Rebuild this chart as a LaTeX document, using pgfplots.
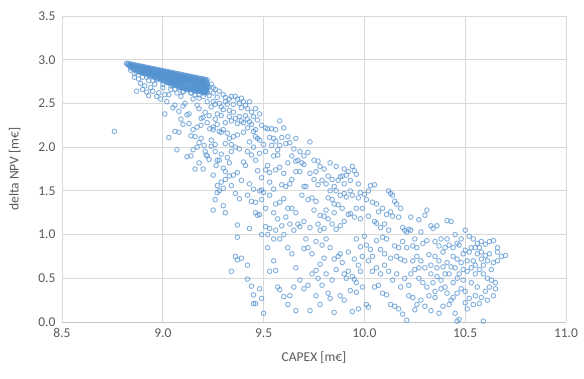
\documentclass[border=0pt]{standalone}
\usepackage{fontspec}
\setmainfont{Carlito}
\usepackage{pgfplots}
\pgfplotsset{compat=1.18}
\definecolor{ptblue}{RGB}{84,146,208}
\definecolor{gridgray}{RGB}{217,217,217}
\definecolor{labgray}{RGB}{89,89,89}
\pgfplotsset{design/.style={only marks, mark=o, mark size=2.3bp, line width=0.9bp, draw=ptblue, draw opacity=0.72}}
\begin{document}
\begin{tikzpicture}
\path[use as bounding box] (-62bp,-57bp) rectangle (522bp,322bp);
\begin{axis}[
  at={(0,0)}, anchor=south west,
  scale only axis, width=504bp, height=306bp,
  xmin=8.5, xmax=11.0, ymin=0, ymax=3.5,
  xtick={8.5,9.0,...,11.0}, ytick={0,0.5,...,3.5},
  /pgf/number format/fixed, /pgf/number format/fixed zerofill, /pgf/number format/precision=1,
  /pgf/number format/assume math mode=true,
  tick label style={font=\fontsize{13.5bp}{15bp}\selectfont, text=labgray},
  label style={font=\fontsize{13.5bp}{15bp}\selectfont, text=labgray},
  major tick length=0pt,
  grid=major, major grid style={gridgray, line width=0.8bp},
  axis line style={gridgray, line width=0.8bp},
  axis x line*=bottom, axis y line*=left,
  x axis line style={-, draw=gridgray!80!black!70, line width=0.8bp},
  y axis line style={-, draw=none},
  xlabel={CAPEX [m€]}, ylabel={delta NPV [m€]},
  xlabel style={at={(axis description cs:0.5,0)}, anchor=north, yshift=-26bp},
  ylabel style={at={(axis description cs:0,0.5)}, anchor=south, yshift=38bp},
  xticklabel style={yshift=-3bp},
  yticklabel style={xshift=-3bp},
  clip=false,
]
% dense front along the upper edge
\addplot[design] coordinates {
(8.82,2.960) (8.83,2.955) (8.84,2.951) (8.85,2.946) (8.86,2.941) (8.87,2.936) (8.88,2.932) (8.89,2.927) (8.90,2.922) (8.91,2.917) (8.92,2.913) (8.93,2.908) (8.94,2.903) (8.95,2.898) (8.96,2.894) (8.97,2.889) (8.98,2.884) (8.99,2.879) (9.00,2.875) (9.01,2.870) (9.02,2.865) (9.03,2.860) (9.04,2.856) (9.05,2.851) (9.06,2.846) (9.07,2.841) (9.08,2.837) (9.09,2.832) (9.10,2.827) (9.11,2.822) (9.12,2.818) (9.13,2.813) (9.14,2.808) (9.15,2.803) (9.16,2.799) (9.17,2.794) (9.18,2.789) (9.19,2.784) (9.20,2.780) (9.21,2.775) (9.22,2.770)
(8.835,2.928) (8.845,2.923) (8.855,2.918) (8.865,2.914) (8.875,2.909) (8.885,2.904) (8.895,2.899) (8.905,2.895) (8.915,2.890) (8.925,2.885) (8.935,2.880) (8.945,2.876) (8.955,2.871) (8.965,2.866) (8.975,2.861) (8.985,2.857) (8.995,2.852) (9.005,2.847) (9.015,2.842) (9.025,2.838) (9.035,2.833) (9.045,2.828) (9.055,2.823) (9.065,2.819) (9.075,2.814) (9.085,2.809) (9.095,2.804) (9.105,2.800) (9.115,2.795) (9.125,2.790) (9.135,2.785) (9.145,2.781) (9.155,2.776) (9.165,2.771) (9.175,2.766) (9.185,2.762) (9.195,2.757) (9.205,2.752) (9.215,2.747)
(8.85,2.896) (8.86,2.891) (8.87,2.886) (8.88,2.882) (8.89,2.877) (8.90,2.872) (8.91,2.867) (8.92,2.863) (8.93,2.858) (8.94,2.853) (8.95,2.848) (8.96,2.844) (8.97,2.839) (8.98,2.834) (8.99,2.829) (9.00,2.825) (9.01,2.820) (9.02,2.815) (9.03,2.810) (9.04,2.806) (9.05,2.801) (9.06,2.796) (9.07,2.791) (9.08,2.787) (9.09,2.782) (9.10,2.777) (9.11,2.772) (9.12,2.768) (9.13,2.763) (9.14,2.758) (9.15,2.753) (9.16,2.749) (9.17,2.744) (9.18,2.739) (9.19,2.734) (9.20,2.730) (9.21,2.725) (9.22,2.720)
(8.895,2.849) (8.905,2.845) (8.915,2.840) (8.925,2.835) (8.935,2.830) (8.945,2.826) (8.955,2.821) (8.965,2.816) (8.975,2.811) (8.985,2.807) (8.995,2.802) (9.005,2.797) (9.015,2.792) (9.025,2.788) (9.035,2.783) (9.045,2.778) (9.055,2.773) (9.065,2.769) (9.075,2.764) (9.085,2.759) (9.095,2.754) (9.105,2.750) (9.115,2.745) (9.125,2.740) (9.135,2.735) (9.145,2.731) (9.155,2.726) (9.165,2.721) (9.175,2.716) (9.185,2.712) (9.195,2.707) (9.205,2.702) (9.215,2.697)
(8.96,2.794) (8.97,2.789) (8.98,2.784) (8.99,2.779) (9.00,2.775) (9.01,2.770) (9.02,2.765) (9.03,2.760) (9.04,2.756) (9.05,2.751) (9.06,2.746) (9.07,2.741) (9.08,2.737) (9.09,2.732) (9.10,2.727) (9.16,2.699) (9.17,2.694) (9.18,2.689) (9.19,2.684) (9.20,2.680) (9.21,2.675) (9.22,2.670)
(9.025,2.738) (9.035,2.733) (9.045,2.728) (9.055,2.723) (9.065,2.719) (9.075,2.714) (9.085,2.709) (9.095,2.704) (9.105,2.700) (9.115,2.695) (9.125,2.690) (9.135,2.685) (9.145,2.681) (9.155,2.676) (9.165,2.671) (9.175,2.666) (9.185,2.662) (9.195,2.657) (9.205,2.652) (9.215,2.647)
(9.08,2.687) (9.09,2.682) (9.10,2.677) (9.11,2.672) (9.12,2.668) (9.13,2.663) (9.14,2.658) (9.15,2.653) (9.16,2.649) (9.17,2.644) (9.18,2.639) (9.19,2.634) (9.20,2.630) (9.21,2.625) (9.22,2.620)
(9.04,2.70) (9.08,2.68) (9.12,2.66) (9.16,2.64) (9.20,2.62) (9.10,2.64) (9.14,2.62) (9.18,2.60) (9.06,2.66) (9.22,2.70) (9.24,2.72) (9.25,2.68)
(8.84,2.88) (8.86,2.84) (8.88,2.78) (8.92,2.80) (8.95,2.76) (8.97,2.77) (8.89,2.85) (9.00,2.72) (9.02,2.74) (8.87,2.64) (8.93,2.59) (8.90,2.66)
};
% more of the front, between the rows above
\addplot[design] coordinates {
(8.825,2.945) (8.835,2.941) (8.845,2.936) (8.855,2.931) (8.865,2.926) (8.875,2.921) (8.885,2.917) (8.895,2.912) (8.905,2.907) (8.915,2.902) (8.925,2.898) (8.935,2.893) (8.945,2.888) (8.955,2.883) (8.965,2.879) (8.975,2.874) (8.985,2.869) (8.995,2.864) (9.005,2.860) (9.015,2.855) (9.025,2.850) (9.035,2.845) (9.045,2.841) (9.055,2.836) (9.065,2.831) (9.075,2.826) (9.085,2.822) (9.095,2.817) (9.105,2.812) (9.115,2.807) (9.125,2.803) (9.135,2.798) (9.145,2.793) (9.155,2.788) (9.165,2.784) (9.175,2.779) (9.185,2.774) (9.195,2.769) (9.205,2.765) (9.215,2.760)
(8.84,2.913) (8.85,2.909) (8.86,2.904) (8.87,2.899) (8.88,2.894) (8.89,2.890) (8.90,2.885) (8.91,2.880) (8.92,2.875) (8.93,2.871) (8.94,2.866) (8.95,2.861) (8.96,2.856) (8.97,2.852) (8.98,2.847) (8.99,2.842) (9.00,2.837) (9.01,2.833) (9.02,2.828) (9.03,2.823) (9.04,2.818) (9.05,2.814) (9.06,2.809) (9.07,2.804) (9.08,2.799) (9.09,2.795) (9.10,2.790) (9.11,2.785) (9.12,2.780) (9.13,2.776) (9.14,2.771) (9.15,2.766) (9.16,2.761) (9.17,2.757) (9.18,2.752) (9.19,2.747) (9.20,2.742) (9.21,2.738) (9.22,2.733)
(8.875,2.871) (8.885,2.867) (8.895,2.862) (8.905,2.857) (8.915,2.852) (8.925,2.848) (8.935,2.843) (8.945,2.838) (8.955,2.833) (8.965,2.829) (8.975,2.824) (8.985,2.819) (8.995,2.814) (9.005,2.810) (9.015,2.805) (9.025,2.800) (9.035,2.795) (9.045,2.791) (9.055,2.786) (9.065,2.781) (9.075,2.776) (9.085,2.772) (9.095,2.767) (9.105,2.762) (9.115,2.757) (9.125,2.753) (9.135,2.748) (9.145,2.743) (9.155,2.738) (9.165,2.734) (9.175,2.729) (9.185,2.724) (9.195,2.719) (9.205,2.715) (9.215,2.710)
(8.93,2.821) (8.94,2.816) (8.95,2.811) (8.96,2.806) (8.97,2.802) (8.98,2.797) (8.99,2.792) (9.00,2.787) (9.01,2.783) (9.02,2.778) (9.03,2.773) (9.04,2.768) (9.05,2.764) (9.06,2.759) (9.07,2.754) (9.08,2.749) (9.09,2.745) (9.10,2.740) (9.17,2.707) (9.18,2.702) (9.19,2.697) (9.20,2.692) (9.21,2.688) (9.22,2.683)
(8.995,2.764) (9.005,2.760) (9.015,2.755) (9.025,2.750) (9.035,2.745) (9.045,2.741) (9.055,2.736) (9.065,2.731) (9.075,2.726) (9.085,2.722) (9.095,2.717) (9.155,2.688) (9.165,2.684) (9.175,2.679) (9.185,2.674) (9.195,2.669) (9.205,2.665) (9.215,2.660)
(9.05,2.713) (9.06,2.709) (9.07,2.704) (9.08,2.699) (9.09,2.694) (9.10,2.690) (9.11,2.685) (9.12,2.680) (9.13,2.676) (9.14,2.671) (9.15,2.666) (9.16,2.661) (9.17,2.657) (9.18,2.652) (9.19,2.647) (9.20,2.642) (9.21,2.638) (9.22,2.633)
};
% remaining designs
\addplot[design] coordinates {
(8.76,2.18)
(9.01,2.38) (9.03,2.11) (9.07,1.97) (9.06,2.18) (9.09,2.32) (9.10,2.26) (9.08,2.17)
(9.15,1.97) (9.16,1.75) (9.14,1.90) (9.17,2.00) (9.19,2.10) (9.205,2.02) (9.215,1.91) (9.24,2.01) (9.233,2.21) (9.25,2.20) (9.27,1.85) (9.265,1.79)
(9.02,2.52) (9.03,2.60) (8.95,2.64) (8.92,2.63) (8.97,2.58) (8.99,2.55) (9.05,2.45) (9.06,2.48) (9.08,2.41) (9.10,2.47) (9.12,2.37) (9.13,2.38) (9.11,2.50) (9.15,2.55) (9.17,2.48) (9.18,2.44) (9.19,2.33) (9.20,2.34) (9.21,2.40) (9.22,2.52) (9.24,2.46) (9.25,2.52) (9.26,2.49) (9.27,2.57) (9.25,2.62) (9.28,2.50) (9.27,2.38) (9.29,2.46) (9.30,2.43) (9.23,2.59) (9.21,2.63) (9.18,2.56) (9.16,2.60) (9.14,2.62) (9.09,2.58) (9.07,2.62) (9.04,2.66) (9.00,2.68) (8.96,2.72) (8.93,2.76) (8.90,2.80) (8.87,2.86) (8.89,2.73) (8.86,2.80) (8.91,2.70) (8.94,2.68) (8.98,2.62) (9.01,2.60) (9.10,2.63) (9.12,2.66) (9.20,2.58) (9.23,2.69) (9.26,2.66) (9.28,2.64) (9.30,2.60) (9.31,2.57)
(9.32,2.49) (9.34,2.58) (9.36,2.58) (9.37,2.55) (9.38,2.50) (9.40,2.52) (9.39,2.45) (9.42,2.44) (9.35,2.40) (9.33,2.42) (9.36,2.33) (9.38,2.35) (9.41,2.36) (9.43,2.29) (9.44,2.26) (9.40,2.28) (9.37,2.27) (9.34,2.30) (9.31,2.28) (9.30,2.20) (9.32,2.16) (9.35,2.12) (9.33,2.10) (9.37,2.14) (9.40,2.17) (9.42,2.22) (9.45,2.18) (9.46,2.12) (9.47,2.10) (9.43,2.06) (9.31,2.04) (9.34,2.03) (9.36,2.00) (9.38,1.98) (9.29,2.17) (9.27,2.26) (9.25,2.23) (9.28,2.18)
(9.25,1.68) (9.27,1.56) (9.28,1.50) (9.27,1.48) (9.30,1.53) (9.26,1.40) (9.25,1.28) (9.30,1.33) (9.31,1.25) (9.28,1.85) (9.30,1.76) (9.31,1.72) (9.33,1.82) (9.35,1.68) (9.34,1.56) (9.36,1.47) (9.38,1.41) (9.40,1.83) (9.41,1.79) (9.37,1.71) (9.39,1.62) (9.43,1.58) (9.42,1.45) (9.45,1.52) (9.44,1.38) (9.46,1.37) (9.48,1.23) (9.47,1.22) (9.49,1.40) (9.50,1.48) (9.49,1.65) (9.47,1.73) (9.46,1.85) (9.44,1.91) (9.42,1.95) (9.45,2.00) (9.48,1.93)
(9.37,1.11) (9.37,0.97) (9.36,0.75) (9.37,0.71) (9.39,0.73) (9.34,0.58) (9.43,1.07) (9.42,0.65) (9.42,0.49) (9.44,0.41) (9.45,0.31) (9.46,0.21) (9.45,0.21) (9.49,0.27) (9.48,0.38) (9.50,0.10) (9.49,1.00)
(9.52,2.21) (9.54,2.21) (9.56,2.20) (9.58,2.30) (9.60,2.22) (9.56,2.07) (9.58,2.02) (9.61,2.04) (9.55,1.90) (9.57,1.91) (9.52,1.79) (9.51,1.74) (9.53,1.71) (9.56,1.74) (9.58,1.77) (9.60,1.70) (9.62,1.82) (9.64,1.90) (9.66,1.84) (9.67,1.85) (9.69,1.82) (9.70,1.80) (9.72,1.94) (9.73,2.06) (9.75,1.85) (9.77,1.84) (9.63,1.58) (9.64,1.63) (9.66,1.72) (9.68,1.72) (9.70,1.55) (9.71,1.55) (9.69,1.45) (9.61,1.55) (9.59,1.57) (9.55,1.52) (9.53,1.60) (9.60,1.41) (9.58,1.37) (9.56,1.35) (9.62,1.30) (9.64,1.30) (9.66,1.25) (9.67,1.12) (9.68,1.09) (9.65,1.05)
(9.72,1.40) (9.74,1.42) (9.76,1.38) (9.75,1.28) (9.78,1.22) (9.80,1.21) (9.81,1.28) (9.82,1.42) (9.84,1.40) (9.85,1.55) (9.87,1.62) (9.89,1.67) (9.90,1.75) (9.92,1.72) (9.94,1.78) (9.95,1.73) (9.96,1.69) (9.83,1.82) (9.86,1.78) (9.88,1.66) (9.91,1.68) (9.93,1.50) (9.94,1.45) (9.91,1.43) (9.89,1.30) (9.87,1.34) (9.92,1.23) (9.93,1.24) (9.95,1.20) (9.84,1.12) (9.86,1.06) (9.88,1.10) (9.80,1.07) (9.78,1.05) (9.73,1.08) (9.71,0.95) (9.70,1.15)
(9.97,1.58) (9.98,1.48) (10.00,1.46) (10.02,1.50) (10.03,1.56) (10.05,1.57) (10.01,1.40) (10.04,1.37) (10.06,1.35) (10.07,1.26) (10.02,1.21) (10.05,1.15) (10.06,1.13) (10.08,1.08) (10.10,1.12) (10.12,1.50) (10.13,1.47) (10.14,1.45) (10.15,1.38) (10.16,1.35) (10.13,1.26) (10.11,1.23) (10.14,1.21) (10.17,1.20) (10.19,1.08) (10.20,1.05) (10.21,1.03) (10.22,1.06) (10.09,0.97) (10.11,0.95) (10.06,0.93) (10.01,0.88) (9.98,0.86) (9.96,0.95) (10.00,0.98) (10.03,0.83) (10.08,0.83) (10.10,0.78) (10.15,0.87) (10.17,0.85) (10.19,0.92) (10.13,0.73) (10.16,0.75) (10.18,0.72) (10.20,0.70)
(10.23,1.20) (10.27,1.17) (10.31,1.28) (10.30,1.22) (10.33,1.10) (10.34,1.07) (10.36,1.10) (10.28,1.03) (10.25,0.95) (10.24,0.87) (10.26,0.85) (10.29,0.90) (10.31,0.93) (10.35,0.92) (10.37,0.87) (10.39,0.80) (10.40,0.85) (10.42,0.88) (10.41,1.16) (10.43,1.15) (10.45,1.00) (10.47,0.88) (10.49,0.78) (10.32,0.77) (10.33,0.65) (10.35,0.75) (10.37,0.70) (10.39,0.63) (10.41,0.68) (10.43,0.63) (10.27,0.62) (10.25,0.60) (10.23,0.55) (10.29,0.45) (10.31,0.40) (10.34,0.45) (10.36,0.52) (10.38,0.48) (10.40,0.40) (10.44,0.45) (10.46,0.50)
(10.50,1.05) (10.52,0.98) (10.54,0.95) (10.56,0.90) (10.58,0.92) (10.60,0.89) (10.62,0.92) (10.64,0.93) (10.66,0.85) (10.68,0.75) (10.66,0.70) (10.64,0.68) (10.62,0.78) (10.60,0.76) (10.58,0.72) (10.56,0.78) (10.54,0.70) (10.52,0.80) (10.50,0.82) (10.48,0.68) (10.46,0.72) (10.45,0.62) (10.47,0.55) (10.49,0.60) (10.51,0.58) (10.53,0.62) (10.55,0.55) (10.57,0.60) (10.59,0.55) (10.61,0.50) (10.63,0.48) (10.65,0.45) (10.65,0.38) (10.60,0.35) (10.58,0.28) (10.55,0.30) (10.52,0.27) (10.50,0.35) (10.48,0.38) (10.46,0.33) (10.44,0.28) (10.42,0.20) (10.45,0.10) (10.47,0.03) (10.46,0.01) (10.59,0.01) (10.57,0.21) (10.53,0.45) (10.56,0.40) (10.70,0.76)
(9.52,0.85) (9.53,0.58) (9.56,0.59) (9.57,0.40) (9.58,0.37) (9.60,0.29) (9.62,0.20) (9.63,0.30) (9.65,0.40) (9.66,0.13) (9.68,0.48) (9.70,0.38) (9.72,0.42) (9.73,0.13) (9.70,0.84) (9.72,0.85) (9.74,0.55) (9.76,0.59) (9.77,0.50) (9.78,0.66) (9.80,0.73) (9.82,0.33) (9.83,0.27) (9.85,0.11) (9.87,0.75) (9.88,0.78) (9.89,0.68) (9.90,0.55) (9.91,0.50) (9.92,0.58) (9.94,0.52) (9.95,0.49) (9.93,0.36) (9.96,0.34) (9.94,0.12) (9.97,0.15) (9.99,0.40) (10.01,0.20) (10.02,0.17) (10.04,0.58) (10.05,0.40) (10.07,0.42) (10.09,0.33) (10.11,0.31) (10.13,0.20) (10.15,0.18) (10.17,0.15) (10.19,0.09) (10.21,0.02) (10.22,0.30) (10.24,0.28) (10.26,0.20) (10.25,0.14) (10.28,0.25) (10.30,0.18) (10.33,0.13) (10.35,0.28) (10.37,0.10) (10.39,0.18) (10.41,0.33) (10.43,0.25) (9.64,0.78) (9.66,0.62) (9.62,0.85) (9.58,0.95) (9.55,0.70) (9.60,1.00) (9.53,1.07) (9.56,1.05) (9.51,1.09)
(9.46,1.25) (9.48,1.50) (9.49,1.51) (9.51,1.30) (9.53,1.45) (9.55,1.25) (9.57,1.18) (9.59,1.10) (9.61,1.20) (9.63,1.12) (9.52,1.00) (9.55,0.95)
(9.14,2.13) (9.16,2.12) (9.18,2.05) (9.21,1.95) (9.22,1.90) (9.24,2.08) (9.26,2.03) (9.12,1.89) (9.13,2.27) (9.15,2.20) (9.17,2.23) (9.19,2.25) (9.22,2.28)
(9.44,2.40) (9.47,2.31) (9.49,2.25) (9.51,2.22) (9.53,2.11) (9.55,2.10) (9.50,2.03) (9.48,2.08) (9.46,2.20)
(9.78,1.78) (9.80,1.75) (9.82,1.67) (9.79,1.62) (9.77,1.57) (9.75,1.63) (9.73,1.70) (9.84,1.63) (9.86,1.50) (9.88,1.45) (9.90,1.47) (9.85,1.25)
(9.31,2.52) (9.33,2.55) (9.35,2.49) (9.39,2.56) (9.41,2.48) (9.43,2.52) (9.46,2.44) (9.45,2.35) (9.48,2.38) (9.42,2.32) (9.39,2.30) (9.33,2.35) (9.29,2.36) (9.26,2.32) (9.23,2.36)
(9.18,1.82) (9.20,1.75) (9.23,1.86) (9.26,1.95) (9.29,1.92) (9.32,1.88) (9.34,1.95) (9.31,1.63) (9.29,1.60) (9.33,1.67)
(9.59,2.11) (9.63,2.05) (9.65,1.98) (9.68,1.95) (9.70,1.90) (9.66,2.10) (9.62,2.12) (9.57,1.97) (9.54,2.02) (9.51,1.95)
(9.76,1.72) (9.81,1.58) (9.83,1.50) (9.85,1.35) (9.90,1.58) (9.93,1.62) (9.97,1.42) (9.99,1.30) (9.96,1.30) (9.98,1.18) (9.90,1.15) (9.82,1.18) (9.77,1.12)
(9.74,0.78) (9.76,0.92) (9.79,0.88) (9.81,0.95) (9.83,0.85) (9.85,0.72) (9.86,0.60) (9.84,0.48) (9.81,0.55) (9.79,0.42) (9.76,0.30) (9.78,0.20) (9.88,0.30) (9.90,0.25) (9.92,0.80) (9.95,0.72) (9.97,0.65) (9.99,0.75) (9.98,0.58) (9.96,0.45)
(10.02,0.70) (10.04,0.75) (10.06,0.62) (10.08,0.55) (10.10,0.65) (10.12,0.58) (10.14,0.48) (10.16,0.55) (10.18,0.40) (10.20,0.50) (10.22,0.42) (10.26,0.75) (10.28,0.70) (10.30,0.62) (10.27,0.50) (10.24,0.70) (10.21,0.85) (10.23,1.05) (10.12,1.05) (10.09,1.30) (10.18,1.30)
(10.38,0.95) (10.44,0.75) (10.46,0.90) (10.48,0.95) (10.51,0.70) (10.53,0.85) (10.55,0.65) (10.57,0.85) (10.59,0.65) (10.61,0.70) (10.63,0.60) (10.62,0.40) (10.64,0.30) (10.61,0.25) (10.54,0.20) (10.51,0.15) (10.49,0.48) (10.50,0.22) (10.42,0.55) (10.40,0.55) (10.36,0.62) (10.33,0.55) (10.38,0.38) (10.35,0.35) (10.32,0.30) (10.44,0.85) (10.41,0.95) (10.55,0.85) (10.58,0.80) (10.66,0.80)
};
\end{axis}
\end{tikzpicture}
\end{document}
